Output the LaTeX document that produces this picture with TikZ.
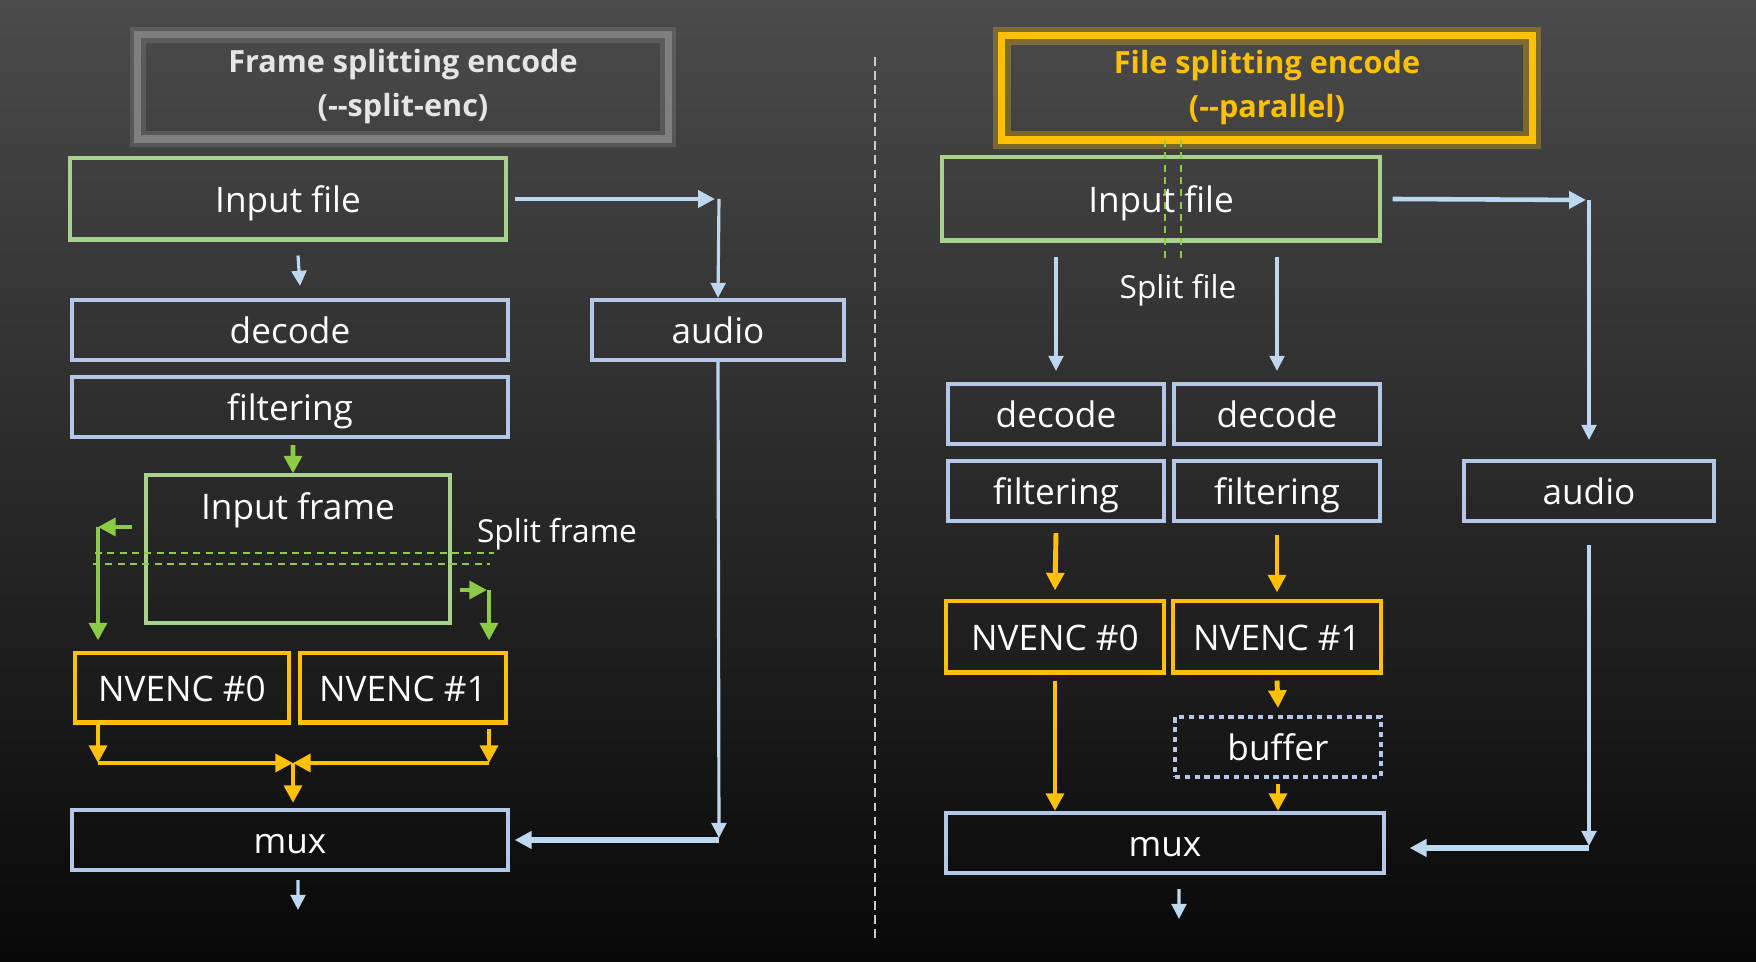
\documentclass[tikz,border=0pt]{standalone}
\usepackage{fontspec}
\setmainfont{Open Sans}
\usetikzlibrary{arrows.meta}
\definecolor{boxgreen}{HTML}{A9D18E}
\definecolor{arrgreen}{HTML}{8CCB45}
\definecolor{boxblue}{HTML}{B4C7E7}
\definecolor{arrblue}{HTML}{BDD7EE}
\definecolor{accent}{HTML}{FFC000}
\definecolor{titlegray}{HTML}{7F7F7F}
\definecolor{bgtop}{HTML}{4B4B4B}
\definecolor{bgbot}{HTML}{080808}

\tikzset{
  box/.style={draw, line width=1.15pt, inner sep=0pt, minimum height=0.6cm,
    text height=10pt, text depth=2.2pt},
  greenbox/.style={box, draw=boxgreen},
  bluebox/.style={box, draw=boxblue},
  encbox/.style={box, draw=accent, minimum height=0.7cm},
  bufbox/.style={box, draw=boxblue, dash pattern=on 1.5pt off 1.3pt},
  titlebox/.style={draw, line width=2pt, inner sep=0pt, minimum width=5.3cm,
    minimum height=1.04cm, align=center,
    font=\bfseries\fontsize{8.7}{12.5}\selectfont},
  blarr/.style={draw=arrblue, line width=0.9pt, -{Triangle[length=4.3pt,width=4.2pt]}},
  blfat/.style={draw=arrblue, line width=1.3pt, -{Triangle[length=4.8pt,width=4.8pt]}},
  orarr/.style={draw=accent, line width=1.4pt, -{Triangle[length=5pt,width=5pt]}},
  grarr/.style={draw=arrgreen, line width=1.3pt, -{Triangle[length=5pt,width=5pt]}},
  splitline/.style={draw=arrgreen, line width=0.6pt, dash pattern=on 2pt off 1.5pt},
  note/.style={font=\fontsize{9}{11}\selectfont},
}

\begin{document}
\begin{tikzpicture}[x=0.01cm, y=-0.01cm, font=\fontsize{10}{12}\selectfont,
    every node/.append style={text=white}]
    % background
    \shade[top color=bgtop, bottom color=bgbot] (0,0) rectangle (1756,962);
    \useasboundingbox (0,0) rectangle (1756,962);
    % divider
    \draw[white!80!black, line width=0.5pt, dash pattern=on 2.5pt off 1.5pt]
      (875,57) -- (875,940);

    % ---- frame splitting ----
    \node[titlebox, draw=titlegray, text=white!90!black,
      preaction={draw=titlegray!80!white, line width=4.5pt, opacity=0.25}]
      (titleL) at (403,87) {Frame splitting encode\\(-{}-split-enc)};
    \node[greenbox, minimum width=4.35cm, minimum height=0.81cm] (inL) at (288,199) {Input file};
    \node[bluebox, minimum width=4.35cm] (decL) at (290,330) {decode};
    \node[bluebox, minimum width=4.35cm] (filL) at (290,407) {filtering};
    \node[bluebox, minimum width=2.52cm] (audL) at (718,330) {audio};
    \node[greenbox, minimum width=3.04cm, minimum height=1.47cm,
      label={[anchor=center, yshift=-0.37cm]north:Input frame}] (frameL) at (298,549) {};
    \node[note] (splitL) at (557,534) {Split frame};
    \node[encbox, minimum width=2.13cm, minimum height=0.69cm] (nv0L) at (182,688) {NVENC \#0};
    \node[encbox, minimum width=2.06cm, minimum height=0.69cm] (nv1L) at (403,688) {NVENC \#1};
    \node[bluebox, minimum width=4.35cm] (muxL) at (290,840) {mux};

    % split lines
    \coordinate (dA1) at (95,553);
    \coordinate (dA2) at (494,553);
    \coordinate (dB1) at (93,564);
    \coordinate (dB2) at (490,564);
    \draw[splitline] (dA1) -- (dA2);
    \draw[splitline] (dB1) -- (dB2);

    % input file to audio
    \coordinate (cornerL) at (719,199);
    \draw[blfat] ([xshift=0.07cm]inL.east) -- ([xshift=-0.04cm]cornerL);
    \draw[blarr] (cornerL) -- (audL.north);
    % input file to decode
    \draw[blarr] ([xshift=0.1cm, yshift=-0.14cm]inL.south) -- ([xshift=0.1cm, yshift=0.12cm]decL.north);
    % filtering to input frame
    \draw[grarr] ([xshift=0.03cm, yshift=-0.06cm]filL.south) -- ([xshift=-0.05cm]frameL.north);
    % upper half
    \coordinate (gL) at (98,527);
    \draw[grarr] ([xshift=-0.12cm]frameL.west |- gL) -- (gL);
    \draw[grarr] (gL) -- ([yshift=0.11cm]gL |- nv0L.north);
    % lower half
    \coordinate (gR) at (489,590);
    \draw[grarr] ([xshift=0.08cm]frameL.east |- gR) -- ([xshift=-0.02cm]gR);
    \draw[grarr] (gR) -- ([yshift=0.11cm]gR |- nv1L.north);
    % encoders to mux
    \coordinate (mergeL) at (293,763);
    \draw[orarr] (gL |- nv0L.south) -- (gL |- mergeL);
    \draw[orarr] (gL |- mergeL) -- (mergeL);
    \draw[orarr] ([yshift=-0.04cm]gR |- nv1L.south) -- (gR |- mergeL);
    \draw[orarr] (gR |- mergeL) -- (mergeL);
    \draw[orarr] (mergeL) -- ([yshift=0.05cm]mergeL |- muxL.north);
    % audio to mux
    \coordinate (cornerL2) at (719,840);
    \draw[blarr] (audL.south) -- ([yshift=0.02cm]cornerL2);
    \draw[blfat, line width=1.8pt] (cornerL2) -- ([xshift=0.05cm]muxL.east);
    % output
    \coordinate (outL) at (298,910);
    \draw[blarr] ([xshift=0.08cm, yshift=-0.08cm]muxL.south) -- (outL);

    % ---- file splitting ----
    \node[titlebox, draw=accent, text=accent,
      preaction={draw=accent, line width=5pt, opacity=0.3}]
      (titleR) at (1267,88) {File splitting encode\\(-{}-parallel)};
    \node[greenbox, minimum width=4.37cm, minimum height=0.83cm] (inR) at (1161,199) {Input file};
    \node[bluebox, minimum width=2.15cm] (decR0) at (1056,414) {decode};
    \node[bluebox, minimum width=2.06cm] (decR1) at (1277,414) {decode};
    \node[bluebox, minimum width=2.15cm] (filR0) at (1056,491) {filtering};
    \node[bluebox, minimum width=2.06cm] (filR1) at (1277,491) {filtering};
    \node[bluebox, minimum width=2.5cm] (audR) at (1589,491) {audio};
    \node[encbox, minimum width=2.17cm, minimum height=0.71cm] (nvR0) at (1055,637) {NVENC \#0};
    \node[encbox, minimum width=2.07cm, minimum height=0.71cm] (nvR1) at (1277,637) {NVENC \#1};
    \node[bufbox, minimum width=2.06cm] (buf) at (1278,747) {buffer};
    \node[bluebox, minimum width=4.37cm] (muxR) at (1165,843) {mux};
    \node[note] (splitR) at (1178,290) {Split file};

    % split lines
    \coordinate (sA1) at (1165,140);
    \coordinate (sA2) at (1165,263);
    \coordinate (sB1) at (1181,140);
    \coordinate (sB2) at (1181,263);
    \draw[splitline] (sA1) -- (sA2);
    \draw[splitline] (sB1) -- (sB2);

    % input file to audio
    \coordinate (cornerR) at (1589,200);
    \draw[blfat] ([xshift=0.11cm]inR.east) -- ([xshift=-0.03cm]cornerR);
    \draw[blarr] (cornerR) -- ([yshift=0.19cm]audR.north);
    % input file to decoders
    \draw[blarr] ([yshift=-0.14cm]inR.south -| decR0) -- ([yshift=0.11cm]decR0.north);
    \draw[blarr] ([yshift=-0.14cm]inR.south -| decR1) -- ([yshift=0.11cm]decR1.north);
    % filtering to encoders
    \draw[orarr] ([yshift=-0.1cm]filR0.south) -- ([yshift=0.09cm]nvR0.north);
    \draw[orarr] ([yshift=-0.12cm]filR1.south) -- ([yshift=0.07cm]nvR1.north);
    % encoders to mux
    \draw[orarr] ([yshift=-0.06cm]nvR0.south) -- (nvR0.south |- muxR.north);
    \draw[orarr] ([yshift=-0.06cm]nvR1.south) -- ([yshift=0.07cm]buf.north);
    \draw[orarr] ([yshift=-0.05cm]buf.south) -- (buf.south |- muxR.north);
    % audio to mux
    \coordinate (cornerR2) at (1589,848);
    \draw[blarr] ([yshift=-0.22cm]audR.south) -- ([yshift=0.02cm]cornerR2);
    \draw[blfat, line width=1.7pt] (cornerR2) -- ([xshift=0.24cm]muxR.east |- cornerR2);
    % output
    \coordinate (outR) at (1179,919);
    \draw[blarr] ([xshift=0.14cm, yshift=-0.14cm]muxR.south) -- (outR);
\end{tikzpicture}
\end{document}
